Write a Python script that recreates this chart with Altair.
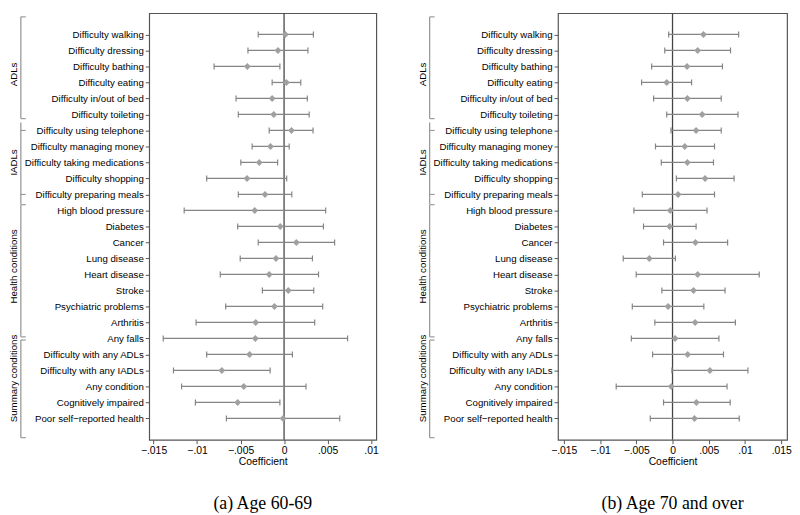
import altair as alt
import pandas as pd

labels = [
    "Difficulty walking", "Difficulty dressing", "Difficulty bathing", "Difficulty eating",
    "Difficulty in/out of bed", "Difficulty toileting", "Difficulty using telephone",
    "Difficulty managing money", "Difficulty taking medications", "Difficulty shopping",
    "Difficulty preparing meals", "High blood pressure", "Diabetes", "Cancer", "Lung disease",
    "Heart disease", "Stroke", "Psychiatric problems", "Arthritis", "Any falls",
    "Difficulty with any ADLs", "Difficulty with any IADLs", "Any condition",
    "Cognitively impaired", "Poor self\u2212reported health",
]

# Panel (a): Age 60-69
a_coef = [0.00015, -0.0007, -0.00422, 0.00026, -0.00137, -0.00119, 0.00085, -0.00156, -0.00285,
          -0.00426, -0.00219, -0.00337, -0.00044, 0.00141, -0.00093, -0.00171, 0.00048, -0.00111,
          -0.00326, -0.0033, -0.00396, -0.00715, -0.00463, -0.00533, -0.00011]
a_lo = [-0.00297, -0.00415, -0.00804, -0.00137, -0.00552, -0.00526, -0.00171, -0.00367, -0.00497,
        -0.00889, -0.00526, -0.01148, -0.00533, -0.00297, -0.00504, -0.00733, -0.00249, -0.00671,
        -0.01011, -0.01389, -0.00889, -0.01271, -0.01178, -0.01019, -0.00663]
a_hi = [0.00337, 0.00274, -0.00048, 0.00192, 0.00267, 0.00289, 0.00333, 0.00059, -0.00074,
        0.0003, 0.00089, 0.00478, 0.00452, 0.00581, 0.00326, 0.00396, 0.00341, 0.00444,
        0.00352, 0.0073, 0.00096, -0.0016, 0.00252, -0.00048, 0.0064]

# Panel (b): Age 70 and over
b_coef = [0.00427, 0.00347, 0.002, -0.0008, 0.00205, 0.00409, 0.00325, 0.00169, 0.00205,
          0.00449, 0.00076, -0.00031, -0.0004, 0.00316, -0.0032, 0.00347, 0.00289, -0.00061,
          0.00312, 0.00036, 0.00209, 0.00516, -0.00017, 0.00329, 0.00303]
b_lo = [-0.00053, -0.00107, -0.00288, -0.00427, -0.00261, -0.0008, -0.00021, -0.00235, -0.00155,
        0.00053, -0.00417, -0.00533, -0.004, -0.00124, -0.0068, -0.00501, -0.00147, -0.00555,
        -0.00244, -0.00568, -0.00275, -0.00008, -0.00777, -0.00124, -0.00307]
b_hi = [0.00912, 0.008, 0.00689, 0.00263, 0.00672, 0.00903, 0.00672, 0.00579, 0.00565,
        0.00849, 0.00579, 0.00476, 0.00325, 0.0076, 0.0004, 0.01196, 0.00725, 0.00432,
        0.00867, 0.0064, 0.00703, 0.0104, 0.00752, 0.00796, 0.0092]

groups = ["ADLs", "IADLs", "Health conditions", "Summary conditions"]
group_first = [0, 6, 11, 19]
group_last = [5, 10, 18, 24]
bracket_top = [-1.1, 5.5, 10.64, 19.1]
bracket_bottom = [5.26, 10.6, 18.9, 25.2]
bracket_ticks = [-1.1, 5.26, 6, 10, 10.64, 18.9, 19.1, 25.2]

a_ticks = [-0.015, -0.01, -0.005, 0, 0.005, 0.01]
b_ticks = [-0.015, -0.01, -0.005, 0, 0.005, 0.01, 0.015]
a_domain = [-0.0155, 0.0106]
b_domain = [-0.0158, 0.0158]

FONT = "Liberation Sans"
BAR = "#858585"
PT = "#a0a0a0"


def panel(coef, lo, hi, xdom, xticks, caption, width):
    df = pd.DataFrame({"idx": list(range(len(labels))), "coef": coef, "lo": lo, "hi": hi})
    ysc = alt.Scale(domain=[-1.33, len(labels) + 0.33], reverse=True, nice=False, zero=False)
    xsc = alt.Scale(domain=xdom, nice=False, zero=False)
    lab_expr = "[" + ",".join("'%s'" % l for l in labels) + "][datum.value]"
    xaxis = alt.Axis(values=xticks, title="Coefficient", grid=False, domain=False, tickSize=4,
                     tickColor="#555", labelFont=FONT, labelFontSize=10.5, labelColor="#000",
                     titleFont=FONT, titleFontSize=10.5, titleFontWeight="normal", titleColor="#000",
                     titlePadding=1, labelPadding=2,
                     labelExpr="datum.value == 0 ? '0' : replace(format(datum.value, '.3~f'), '0.', '.')")
    yaxis = alt.Axis(values=list(range(len(labels))), labelExpr=lab_expr, title=None, grid=False,
                     domain=False, tickSize=4, tickColor="#555", labelFont=FONT, labelFontSize=9.8,
                     labelColor="#000", labelPadding=2, labelLimit=300)

    def X(f):
        return alt.X(f, scale=xsc, axis=xaxis, title="Coefficient")

    def Y(f):
        return alt.Y(f, scale=ysc, axis=yaxis, title=None)

    base = alt.Chart(df)
    zero = alt.Chart(pd.DataFrame({"z": [0]})).mark_rule(color="#444", strokeWidth=1.3).encode(
        x=X("z:Q"))
    bars = base.mark_rule(color=BAR, strokeWidth=1.3).encode(x=X("lo:Q"), x2="hi:Q", y=Y("idx:Q"))
    cap_lo = base.mark_tick(orient="vertical", size=6, thickness=1.2, color=BAR, opacity=1).encode(
        x=X("lo:Q"), y=Y("idx:Q"))
    cap_hi = base.mark_tick(orient="vertical", size=6, thickness=1.2, color=BAR, opacity=1).encode(
        x=X("hi:Q"), y=Y("idx:Q"))
    pts = base.mark_point(shape="diamond", filled=True, size=48, color=PT, opacity=1).encode(
        x=X("coef:Q"), y=Y("idx:Q"))

    gdf = pd.DataFrame({
        "g": groups,
        "top": bracket_top,
        "bot": bracket_bottom,
        "mid": [(f + l) / 2 for f, l in zip(group_first, group_last)],
    })
    tdf = pd.DataFrame({"t": bracket_ticks})
    br = alt.Chart(gdf).mark_rule(color="#9a9a9a", strokeWidth=1.3).encode(
        x=alt.value(-130), y=Y("top:Q"), y2="bot:Q")
    brt = alt.Chart(tdf).mark_rule(color="#9a9a9a", strokeWidth=1.2).encode(
        x=alt.value(-130), x2=alt.value(-125), y=Y("t:Q"))
    gtxt = alt.Chart(gdf).mark_text(angle=270, font=FONT, fontSize=9.8, color="#000",
                                    align="center", baseline="middle").encode(
        x=alt.value(-137), y=Y("mid:Q"), text="g:N")

    return alt.layer(zero, bars, cap_lo, cap_hi, pts, br, brt, gtxt).properties(
        width=width, height=432,
        title=alt.TitleParams(caption, orient="bottom", font="Liberation Serif", fontSize=18,
                              fontWeight="normal", color="#000", offset=28),
    )


left = panel(a_coef, a_lo, a_hi, a_domain, a_ticks, "(a) Age 60-69", 230)
right = panel(b_coef, b_lo, b_hi, b_domain, b_ticks, "(b) Age 70 and over", 232)

chart = alt.hconcat(left, right, spacing=38).properties(
    padding={"left": 0, "top": 0, "right": 0, "bottom": 0}
).configure_view(stroke="#555", strokeWidth=1.2)

chart.save("out.html", embed_options={"renderer": "svg", "actions": False})
